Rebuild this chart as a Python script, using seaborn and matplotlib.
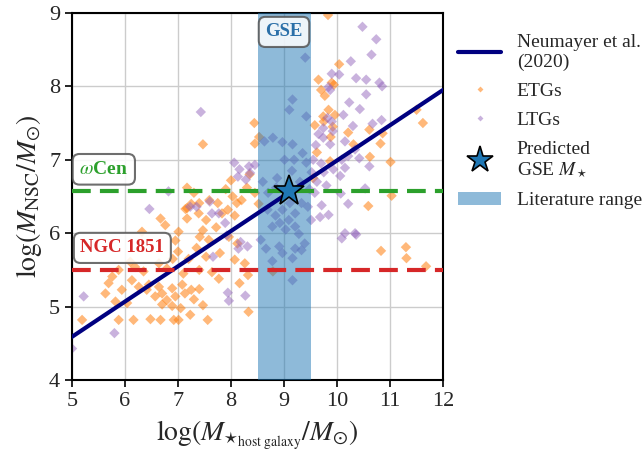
import numpy as np
import pandas as pd
import seaborn as sns
import matplotlib.pyplot as plt
from matplotlib.lines import Line2D
from matplotlib.patches import Patch

# ETGs (orange)
etg_x = [9.83, 10.04, 9.65, 9.94, 9.77, 9.84, 9.96, 9.75, 11.50, 11.62, 10.21, 10.61, 10.86, 10.82,
         10.31, 10.62, 11.01, 9.87, 9.88, 9.90, 9.70, 9.92, 9.58, 9.74, 9.62, 9.55,
         8.44, 8.53, 8.45, 7.47, 8.35, 8.00,
         10.59, 11.03, 10.83, 11.30, 11.31, 11.68,
         7.40, 7.59, 7.75, 8.03, 8.11, 8.20, 7.39, 7.53, 7.83, 7.94, 8.07, 7.47, 7.72, 7.41, 7.58,
         7.96, 8.12, 7.53, 7.79, 8.07, 8.26, 7.40, 7.64, 7.77, 8.16, 8.32, 7.40, 7.47, 7.56, 8.33, 8.79,
         7.17, 6.67, 6.76, 7.01, 7.17, 7.25, 6.32, 6.10, 6.19, 5.88, 6.35, 6.64, 6.79, 5.69, 6.13,
         6.26, 6.45, 6.64, 6.70, 6.89, 7.08, 6.57, 6.79, 6.95, 7.13, 7.25, 5.82, 6.04, 6.70, 6.89,
         5.19, 5.88, 6.16, 6.48, 6.67, 6.92, 7.01, 7.23, 5.63, 5.94, 5.76, 6.41,
         7.14, 7.17, 7.30, 7.90, 8.30, 8.45, 8.52, 7.00, 7.20, 7.35, 6.95, 7.10, 6.90, 7.30, 7.05]
etg_y = [8.97, 8.30, 8.09, 8.02, 7.87, 7.68, 7.61, 7.52, 7.68, 7.50, 7.37, 7.41, 7.36, 7.22,
         7.21, 7.04, 6.97, 6.98, 7.31, 8.05, 7.95, 7.45, 7.47, 7.59, 7.10, 6.75,
         7.50, 7.31, 7.22, 7.21, 6.80, 6.72,
         6.37, 6.51, 5.76, 5.81, 5.66, 5.55,
         6.41, 6.45, 6.41, 6.50, 6.41, 6.45, 6.27, 6.18, 6.27, 6.32, 6.24, 6.04, 6.08, 5.95, 5.91,
         5.95, 5.86, 5.68, 5.73, 5.64, 5.59, 5.50, 5.47, 5.38, 5.32, 5.43, 5.24, 5.02, 4.82, 4.93, 5.48,
         6.34, 6.20, 6.11, 6.02, 6.20, 6.40, 6.02, 5.61, 5.54, 5.50, 5.48, 5.59, 5.52, 5.32, 5.36,
         5.27, 5.30, 5.27, 5.18, 5.25, 5.30, 5.14, 5.09, 5.14, 5.18, 5.23, 5.07, 5.05, 5.03, 5.01,
         4.82, 4.82, 4.82, 4.83, 4.82, 4.82, 4.82, 4.89, 5.18, 5.23, 5.41, 5.23,
         6.33, 6.62, 6.55, 6.60, 6.62, 6.55, 6.40, 5.75, 5.65, 5.80, 5.90, 5.45, 5.65, 5.10, 4.98]

# LTGs (purple)
ltg_x = [10.48, 10.74, 10.65, 10.26, 9.90, 10.04, 10.36, 10.55, 10.80, 10.85, 9.84, 10.55, 10.23,
         10.43, 10.12, 9.82, 9.90, 10.30, 10.67, 10.84, 9.74, 9.92, 9.74, 10.15, 9.87, 10.34, 10.21,
         10.09, 10.42, 10.61, 10.15, 9.93, 9.75, 10.06, 10.53, 9.87,
         10.21, 9.71, 9.84, 9.68, 10.15, 10.09, 10.36, 10.07, 10.34,
         9.40, 9.16, 9.10, 7.43, 9.42, 8.97, 9.16, 8.63, 8.79, 9.35, 8.06, 8.16, 8.34, 8.45, 9.01,
         9.19, 9.42, 8.28, 9.52, 9.15, 8.87, 8.13, 8.36,
         7.60, 7.77, 7.89, 8.18, 8.31, 7.92, 7.94, 8.27, 7.96, 9.16, 8.69, 8.84, 8.97, 9.09, 9.21,
         9.33, 8.78, 9.03, 9.21, 8.66, 8.91, 8.97, 9.21, 9.33, 8.78, 9.16, 8.56, 9.28, 9.45, 9.51,
         9.39, 9.11, 8.92,
         7.35, 7.64, 7.66, 8.14,
         6.46, 5.22, 5.80, 6.82, 5.00, 7.23,
         9.60, 9.55, 9.70, 9.62, 9.80, 9.48, 9.65, 9.58, 8.70, 8.85, 9.30, 8.60]
ltg_y = [8.81, 8.64, 8.43, 8.34, 8.17, 8.16, 8.11, 8.09, 8.05, 8.00, 7.99, 7.89, 7.78,
         7.69, 7.61, 7.57, 7.52, 7.46, 7.49, 7.54, 7.43, 7.39, 7.30, 7.25, 7.21, 7.14, 7.05,
         7.00, 7.02, 6.91, 6.89, 6.87, 6.83, 6.78, 6.61, 7.95,
         6.40, 6.38, 6.25, 6.22, 6.00, 5.93, 5.98, 6.54, 6.00,
         8.39, 7.82, 7.68, 7.65, 7.59, 7.24, 7.21, 7.25, 7.30, 7.09, 6.96, 6.87, 6.91, 6.93, 7.00,
         7.00, 6.96, 6.73, 6.83, 6.85, 6.75, 6.77, 6.82,
         6.43, 6.27, 6.14, 5.88, 5.82, 5.97, 5.19, 5.15, 5.08, 5.36, 6.32, 6.24, 6.32, 6.18, 6.27,
         6.41, 6.09, 6.05, 6.09, 5.79, 5.82, 5.73, 5.79, 5.77, 5.62, 5.66, 5.91, 5.99, 6.36, 6.18,
         5.86, 6.41, 6.14,
         6.36, 6.27, 5.68, 5.79,
         6.33, 5.14, 4.64, 6.57, 4.43, 6.36,
         7.20, 7.00, 6.95, 6.70, 6.65, 6.60, 7.35, 6.55, 6.55, 6.62, 6.70, 6.70]

# Neumayer et al. (2020) relation
fit_x = [5, 12]
fit_y = [4.59, 7.95]

gse_range = [8.5, 9.5]
gse_pred = (9.1, 6.57)
omega_cen = 6.57
ngc1851 = 5.5

sns.set_style('whitegrid')
plt.rcParams['font.family'] = ['Liberation Serif', 'DejaVu Serif']
plt.rcParams['mathtext.fontset'] = 'stix'

fig = plt.figure(figsize=(6.43, 4.58), dpi=100)
ax = fig.add_axes([0.112, 0.17, 0.577, 0.802])

etg = pd.DataFrame({'x': etg_x, 'y': etg_y})
ltg = pd.DataFrame({'x': ltg_x, 'y': ltg_y})
sns.scatterplot(data=etg, x='x', y='y', marker='D', s=28, color='#ff7f0e', alpha=0.55,
                edgecolor='none', ax=ax, zorder=2)
sns.scatterplot(data=ltg, x='x', y='y', marker='D', s=28, color='#9467bd', alpha=0.5,
                edgecolor='none', ax=ax, zorder=2)

ax.axvspan(gse_range[0], gse_range[1], color='#1f77b4', alpha=0.5, lw=0, zorder=3)
ax.plot(fit_x, fit_y, color='navy', lw=3, zorder=4)
ax.axhline(omega_cen, color='#2ca02c', lw=3, dashes=(4.5, 2.2), zorder=4)
ax.axhline(ngc1851, color='#d62728', lw=3, dashes=(4.5, 2.2), zorder=4)
ax.plot(*gse_pred, marker='*', ms=23, mfc='#1f77b4', mec='black', mew=1.2, zorder=6)

box = dict(boxstyle='round,pad=0.35', fc='white', ec='#555555', lw=1.5, alpha=0.85)
ax.text(9.0, 8.74, 'GSE', color='#2a6fa8', fontsize=13.5, fontweight='bold',
        ha='center', va='center', bbox=box, zorder=7)
ax.text(5.6, 6.87, r'$\omega$Cen', color='#2ca02c', fontsize=14, fontweight='bold',
        ha='center', va='center', bbox=box, zorder=7)
ax.text(5.95, 5.8, 'NGC 1851', color='#d62728', fontsize=13.5, fontweight='bold',
        ha='center', va='center', bbox=box, zorder=7)

ax.set_xlim(5, 12)
ax.set_ylim(4, 9)
ax.set_xticks(range(5, 13))
ax.set_yticks(range(4, 10))
ax.tick_params(labelsize=16, length=5, width=1.2, direction='out', left=True, bottom=True,
               color='black')
ax.grid(color='#cccccc', lw=1)
for sp in ax.spines.values():
    sp.set_color('black')
    sp.set_linewidth(1.5)
ax.set_xlabel(r'$\log(M_{\star_{\rm host\ galaxy}}/M_{\odot})$', fontsize=20, labelpad=6)
ax.set_ylabel(r'$\log(M_{\rm NSC}/M_{\odot})$', fontsize=20, labelpad=4)

handles = [
    Line2D([], [], color='navy', lw=3),
    Line2D([], [], marker='D', ls='none', ms=3, color='#ff7f0e', alpha=0.55, mec='none'),
    Line2D([], [], marker='D', ls='none', ms=3, color='#9467bd', alpha=0.5, mec='none'),
    Line2D([], [], marker='*', ls='none', ms=20, mfc='#1f77b4', mec='black', mew=1.2),
    Patch(facecolor='#1f77b4', alpha=0.5, lw=0),
]
labels = ['Neumayer et al.\n(2020)', 'ETGs', 'LTGs', 'Predicted\nGSE $M_\\star$', 'Literature range']
ax.legend(handles, labels, loc='upper left', bbox_to_anchor=(1.01, 0.975), frameon=False,
          fontsize=14, handlelength=2.2, labelspacing=0.6, borderaxespad=0.2)

fig.savefig('out.png', dpi=100)
